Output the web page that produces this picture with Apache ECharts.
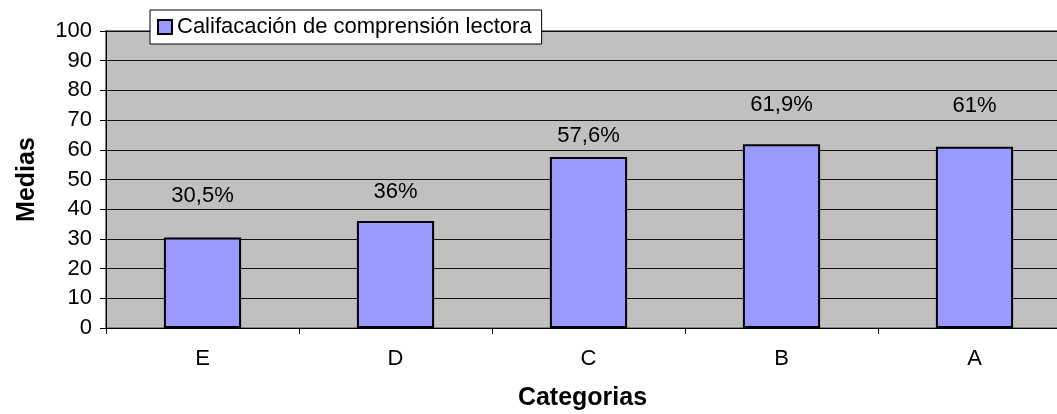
<!DOCTYPE html>
<html>
<head>
<meta charset="utf-8">
<script src="https://cdn.jsdelivr.net/npm/echarts@6/dist/echarts.min.js"></script>
<style>
  html, body { margin: 0; padding: 0; background: #fff; }
  #chart { width: 1057px; height: 414px; }
</style>
</head>
<body>
<div id="chart"></div>
<script>
// Reading comprehension means per category
const categories = ['E', 'D', 'C', 'B', 'A'];
const scores = [30.5, 36, 57.6, 61.9, 61];
const valueLabels = ['30,5%', '36%', '57,6%', '61,9%', '61%'];
const seriesName = 'Califacación de comprensión lectora';
const yTicks = { min: 0, max: 100, step: 10 };

// extra lift of each value label above its bar (px)
const labelLift = [25, 13, 5, 23, 25];

const FONT = '"Liberation Sans", Arial, sans-serif';

const chart = echarts.init(document.getElementById('chart'), null, { renderer: 'canvas' });

chart.setOption({
  animation: false,
  textStyle: { fontFamily: FONT },
  grid: {
    left: 106, top: 31, bottom: 86, width: 965,
    outerBoundsMode: 'none',
    containLabel: false,
    show: true,
    backgroundColor: '#C0C0C0',
    borderColor: '#808080',
    borderWidth: 2
  },
  legend: {
    left: 150, top: 10,
    padding: [6, 10, 6, 7],
    backgroundColor: '#ffffff',
    borderColor: '#000000',
    borderWidth: 1,
    borderRadius: 0,
    itemWidth: 14, itemHeight: 14,
    icon: 'rect',
    textStyle: { fontFamily: FONT, fontSize: 22, color: '#000' },
    data: [seriesName]
  },
  xAxis: {
    type: 'category',
    data: categories,
    name: 'Categorias',
    nameLocation: 'middle',
    nameGap: 58,
    nameTextStyle: {
      fontFamily: FONT, fontSize: 25, fontWeight: 'bold', color: '#000',
      padding: [0, 12, 0, 0]
    },
    axisLine: { lineStyle: { color: '#000', width: 1 } },
    axisTick: { show: true, length: 6, lineStyle: { color: '#000' } },
    axisLabel: { margin: 20, fontFamily: FONT, fontSize: 22, color: '#000' },
    splitLine: { show: false }
  },
  yAxis: {
    type: 'value',
    min: yTicks.min, max: yTicks.max, interval: yTicks.step,
    name: 'Medias',
    nameLocation: 'middle',
    nameRotate: 90,
    nameGap: 66,
    nameTextStyle: { fontFamily: FONT, fontSize: 25, fontWeight: 'bold', color: '#000' },
    axisLine: { show: true, lineStyle: { color: '#000', width: 1 } },
    axisTick: { show: true, length: 6, lineStyle: { color: '#000' } },
    axisLabel: { margin: 14, fontFamily: FONT, fontSize: 22, color: '#000' },
    splitLine: { show: true, lineStyle: { color: '#111', width: 1 } }
  },
  series: [{
    name: seriesName,
    type: 'bar',
    barWidth: '40%',
    itemStyle: { color: '#9999FF', borderColor: '#000', borderWidth: 2 },
    data: scores.map((v, i) => ({
      value: v,
      label: {
        show: true,
        position: 'top',
        distance: 5,
        offset: [0, -labelLift[i]],
        formatter: valueLabels[i],
        fontFamily: FONT, fontSize: 22, color: '#000'
      }
    }))
  }]
});
</script>
</body>
</html>
